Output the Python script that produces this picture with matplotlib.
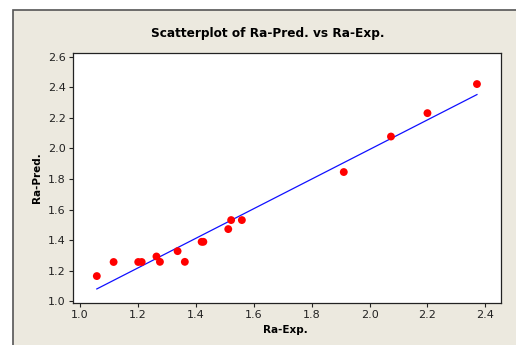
import matplotlib
matplotlib.use("Agg")
import matplotlib.pyplot as plt
import numpy as np
from matplotlib.patches import Rectangle

ra_exp = [1.058, 1.116, 1.201, 1.213, 1.264, 1.276, 1.337, 1.362, 1.420, 1.426,
          1.512, 1.522, 1.559, 1.911, 2.074, 2.200, 2.371]
ra_pred = [1.166, 1.258, 1.258, 1.258, 1.294, 1.259, 1.329, 1.259, 1.390, 1.390,
           1.473, 1.532, 1.532, 1.846, 2.078, 2.231, 2.421]
x_ticks = [1.0, 1.2, 1.4, 1.6, 1.8, 2.0, 2.2, 2.4]
y_ticks = [1.0, 1.2, 1.4, 1.6, 1.8, 2.0, 2.2, 2.4, 2.6]

W, H = 516, 345
fig = plt.figure(figsize=(W / 100, H / 100), dpi=100)
fig.patch.set_facecolor("white")

# beige panel behind the plot
panel = Rectangle((13 / W, -0.1), 1.2, 1.1 - 10 / H, transform=fig.transFigure,
                  facecolor="#ECE9DF", edgecolor="#555555", linewidth=1.2, zorder=-5)
fig.patches.append(panel)

ax = fig.add_axes([72.5 / W, 1 - 303 / H, (500.7 - 72.5) / W, (303 - 53) / H])
ax.set_zorder(2)
ax.set_facecolor("white")

x = np.array(ra_exp)
y = np.array(ra_pred)
slope, inter = np.polyfit(x, y, 1)
xl = np.array([x.min(), x.max()])
ax.plot(xl, inter + slope * xl, color="#1010FF", linewidth=0.9, zorder=2)
ax.scatter(x, y, s=32, color="#FF0000", edgecolors="none", zorder=3)

ax.set_xlim(0.974, 2.453)
ax.set_ylim(0.99, 2.624)
ax.set_xticks(x_ticks)
ax.set_yticks(y_ticks)
ax.set_xticklabels([f"{v:.1f}" for v in x_ticks])
ax.set_yticklabels([f"{v:.1f}" for v in y_ticks])
ax.tick_params(direction="out", length=3, width=0.8, labelsize=8, pad=2,
               colors="#222222")
for s in ax.spines.values():
    s.set_linewidth(0.9)
    s.set_color("#222222")

fig.text(268 / W, 1 - 33 / H, "Scatterplot of Ra-Pred. vs Ra-Exp.",
         ha="center", va="center", fontsize=8.7, fontweight="bold")
fig.text(285 / W, 1 - 330 / H, "Ra-Exp.", ha="center", va="center",
         fontsize=7.5, fontweight="bold")
fig.text(37 / W, 1 - 178 / H, "Ra-Pred.", ha="center", va="center",
         rotation=90, fontsize=7.5, fontweight="bold")

fig.savefig("out.png", dpi=100)
